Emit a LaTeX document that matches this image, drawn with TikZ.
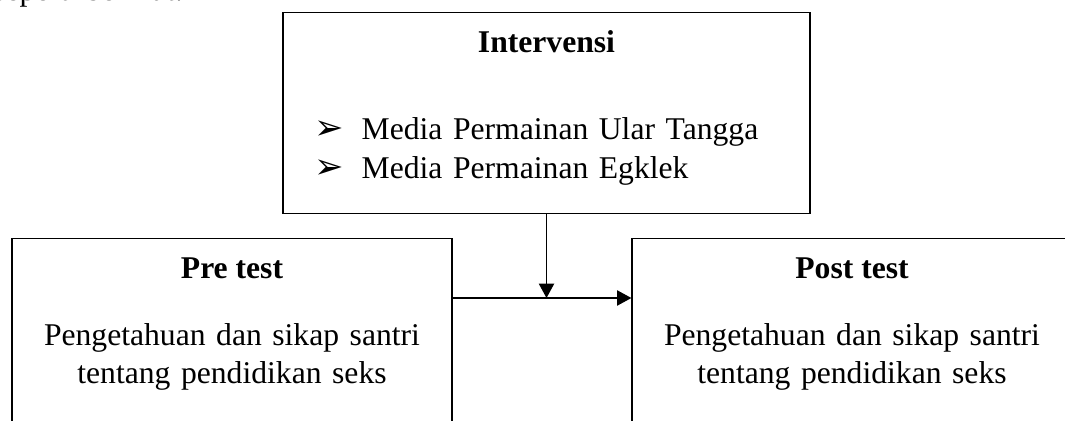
\documentclass[tikz,border=0pt]{standalone}
\usepackage{fontspec}
\setmainfont{Liberation Serif}
\newfontfamily\dingfont{DejaVu Sans}
\usetikzlibrary{arrows.meta, positioning, calc}

\newcommand{\itembul}{\makebox[1.175cm][l]{\dingfont\fontsize{25}{25}\selectfont ➢}}

\begin{document}
\begin{tikzpicture}[
    boxframe/.style={draw=black, line width=0.8pt, inner sep=0pt},
    boxtitle/.style={anchor=base, font=\fontsize{22.5}{27.03}\selectfont\bfseries, inner sep=0pt},
    boxbody/.style={anchor=base, text width=10.5cm, align=center, inner sep=0pt, font=\fontsize{22.5}{27.03}\selectfont},
    flow/.style={line width=1.2pt, -{Triangle[length=0.36cm, width=0.38cm]}}
  ]
  \useasboundingbox (0,0) rectangle (26.625,10.5);
  \clip (0,0) rectangle (26.625,10.5);

  % running text above the figure
  \node[anchor=base west, inner sep=0pt, font=\fontsize{22.5}{27.03}\selectfont] (lead) at (-0.175,10.475) {seperti berikut.};

  % Intervention box
  \node[boxframe, anchor=north, minimum width=13.175cm, minimum height=5.025cm] (interv) at (13.6625,10.2) {};
  \node[boxtitle] (interv title) at ([yshift=-1.025cm]interv.north) {Intervensi};
  \node[boxbody, anchor=base west, text width=12.2cm, align=left] (interv list) at ([xshift=0.8cm, yshift=-3.2cm]interv.north west) {
    \itembul Media Permainan Ular Tangga\\
    \itembul Media Permainan Egklek};

  % Pre test and post test
  \node[boxframe, anchor=north, minimum width=11cm, minimum height=5cm] (pre) at (5.8,4.55) {};
  \node[boxtitle] (pre title) at ([yshift=-1cm]pre.north) {Pre test};
  \node[boxbody] (pre text) at ([yshift=-2.675cm]pre.north) {Pengetahuan dan sikap santri\\tentang pendidikan seks};

  \node[boxframe, anchor=north, minimum width=11cm, minimum height=5cm] (post) at (21.3,4.55) {};
  \node[boxtitle] (post title) at ([yshift=-1cm]post.north) {Post test};
  \node[boxbody] (post text) at ([yshift=-2.675cm]post.north) {Pengetahuan dan sikap santri\\tentang pendidikan seks};

  % Arrows
  \coordinate (pre out) at ([yshift=-1.5cm]pre.north east);
  \draw[flow] (pre out) -- (pre out -| post.west);
  \draw[flow] (interv.south) -- (interv.south |- pre out);
\end{tikzpicture}
\end{document}
